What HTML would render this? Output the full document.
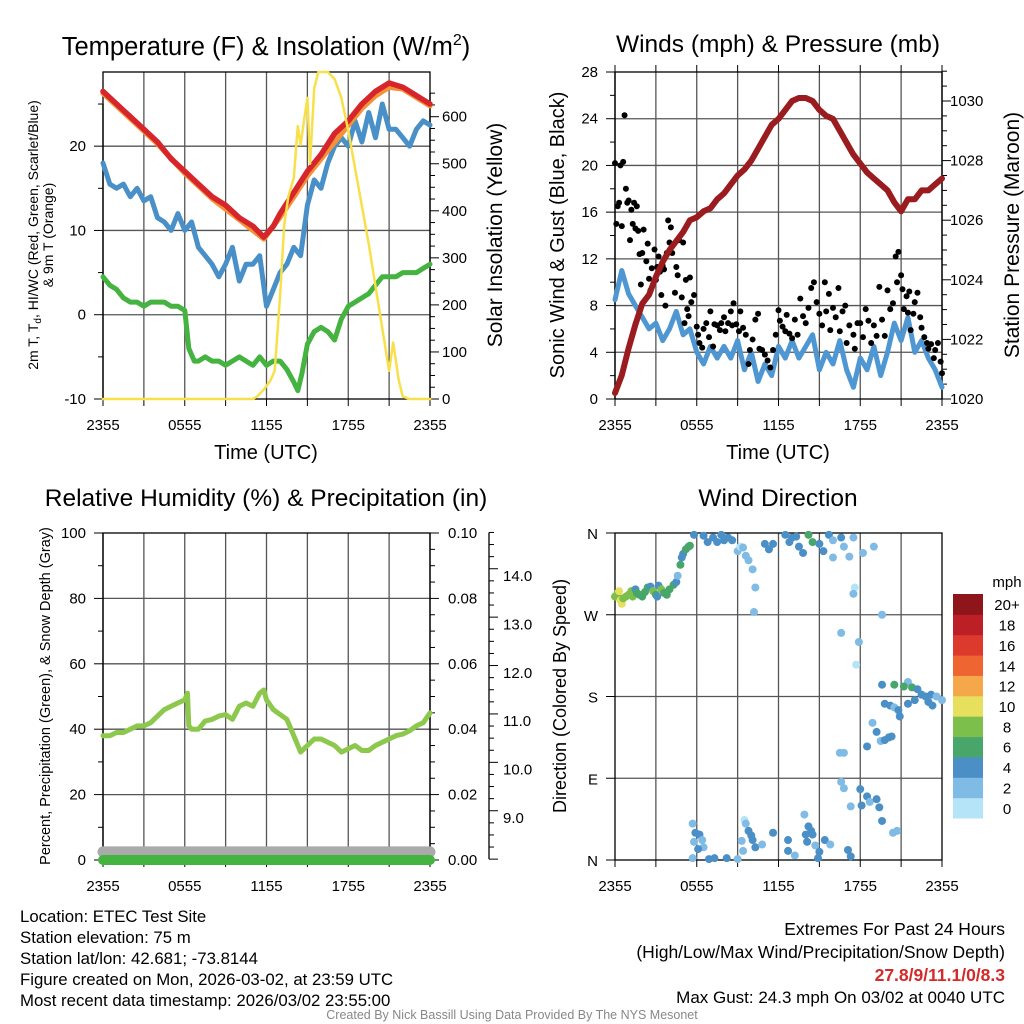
<!DOCTYPE html>
<html><head><meta charset="utf-8"><title>Station Meteogram</title>
<style>
html,body{margin:0;padding:0;background:#fff;}
svg{display:block;font-family:"Liberation Sans",Arial,sans-serif;}
</style></head>
<body>
<svg id="fig" width="1024" height="1024" viewBox="0 0 1024 1024" xmlns="http://www.w3.org/2000/svg">
<g id="layer"></g>
</svg>
<script>
// ---------- DATA ----------
const xTickLabels = ["2355","0555","1155","1755","2355"];
const tempHours = [0,1,2,3,4,5,6,7,8,9,10,11,11.8,12.5,13,14,15,16,17,18,19,20,21,22,23,23.5,24];
const tempVals  = [26.5,25,23.5,22,20.5,18.5,17,15.5,14,13,11.5,10.5,9.2,10.5,12,14.5,17,19,21.5,23,25,26.5,27.5,27,26,25.5,25];
const temp9Hours = [0,2,4,6,8,10,11.8,13,14,15,16,17,18,19,20,21,22,23,24];
const temp9Vals  = [26.3,23.3,20.3,16.8,13.8,11.3,9.0,11.6,14,16.5,18.5,20.5,22.5,24.5,26,27,26.8,25.8,24.8];
const wcHours = [0,0.5,1,1.5,2,2.5,3,3.5,4,4.5,5,5.5,6,6.5,7,7.5,8,8.5,9,9.5,10,10.5,11,11.5,12,12.5,13,13.5,14,14.5,15,15.5,16,16.5,17,17.5,18,18.5,19,19.5,20,20.5,21,21.5,22,22.5,23,23.5,24];
const wcVals  = [18,15.5,15,15.5,14,15,13.5,14,11.5,11,10,12,10,11,8,7,6,4.5,6,8,4,6,6,7,1,3,5,6,8,7,13,16,15,18,20,21,20,23,20.5,24,21,25,22,22,21,20,22,23,22.5];
const dewHours = [0,0.5,1,1.5,2,2.5,3,3.5,4,4.5,5,5.5,6,6.3,6.7,7,7.5,8,8.5,9,9.5,10,10.5,11,11.5,12,12.5,13,13.5,14,14.3,14.6,15,15.5,16,16.5,17,17.5,18,18.5,19,19.5,20,20.5,21,21.5,22,22.5,23,23.5,24];
const dewVals  = [4.5,3.5,3,2,1.5,1.5,1,1.5,1.5,1.5,1,1,0.5,-4,-5.5,-5.5,-5,-5.5,-5.5,-6,-5.5,-5,-5.5,-6,-5,-6,-5.5,-5.5,-6.5,-8,-9,-7,-3.5,-2,-1.5,-2,-3,-0.5,1,1.5,2,2.5,3.5,4.5,4.5,4.5,5,5,5,5.5,6];
const solarHours = [0,11,11.3,11.8,12.3,12.6,13,13.3,13.6,14,14.3,14.5,14.8,15,15.2,15.5,15.8,16.5,17,17.5,18,18.5,19,19.5,20,20.5,21,21.3,21.7,22,22.5,24];
const solarVals  = [0,0,5,20,40,60,220,370,430,470,580,540,600,640,500,660,695,695,680,640,570,490,410,330,240,150,60,120,40,5,0,0];
const windHours = [0,0.5,1,1.5,2,2.5,3,3.5,4,4.5,5,5.5,6,6.5,7,7.5,8,8.5,9,9.5,10,10.5,11,11.5,12,12.5,13,13.5,14,14.5,15,15.5,16,16.5,17,17.5,18,18.5,19,19.5,20,20.5,21,21.5,22,22.5,23,23.5,24];
const windVals  = [8.5,11,9,8,7,6,6.5,5,6,7.5,5.5,6,4,3,4.5,3.5,4.5,3.5,5,2.5,4,1.5,3,2,4.5,3.5,5,3.5,4.5,5.5,2.5,4,3,5,2.5,1,3.5,2.5,4.5,2,4,6.5,5,7,4,5,3.5,2.5,1];
const gustHours = [0,0.1,0.2,0.3,0.4,0.5,0.6,0.7,0.8,0.9,1,1.1,1.2,1.3,1.4,1.5,1.6,1.7,1.8,1.9,2,2.1,2.3,2.4,2.5,2.6,2.7,2.9,3,3.1,3.2,3.3,3.4,3.5,3.6,3.7,3.8,3.9,4,4.1,4.2,4.4,4.5,4.6,4.7,4.9,5,5.1,5.2,5.3,5.4,5.5,5.6,5.8,6,6.1,6.2,6.4,6.5,6.7,6.9,7,7.2,7.3,7.5,7.7,7.8,8,8.1,8.3,8.5,8.6,8.7,8.9,9.1,9.2,9.4,9.6,9.8,9.9,10.1,10.3,10.5,10.6,10.8,11,11.2,11.4,11.6,11.8,12,12.1,12.3,12.5,12.6,12.8,13,13.2,13.4,13.6,13.8,14,14.2,14.4,14.6,14.8,15,15.2,15.4,15.5,15.7,15.8,16,16.2,16.4,16.5,16.7,16.9,17,17.2,17.5,17.6,17.8,18,18.2,18.4,18.6,18.8,19,19.2,19.4,19.6,19.8,20,20.2,20.4,20.6,20.7,20.8,21,21.1,21.2,21.4,21.5,21.6,21.7,21.9,22,22.2,22.4,22.5,22.7,22.9,23,23.2,23.4,23.5,23.7,23.9,24];
const gustVals  = [20.2,15,16.5,16.8,20,14.8,20.3,24.3,18,16.8,17,13.6,16.2,15,16.8,14.6,16.5,14.4,12.4,9.8,12.5,14.5,11.8,13.3,10.3,9.3,11.2,12.8,10.2,11.3,12.2,10.9,8.9,11.4,11.1,8,12.5,15.3,13.4,14.7,12.5,9.1,11.3,10.6,13.6,8.7,13.4,6.5,10.2,7.7,7.1,10.4,8.3,8.9,6.2,5.5,4.8,4.4,6,6.5,5.3,7.5,4.5,6.4,6.3,5.9,6.5,7,5.8,6.5,7.5,6.3,8.2,6.4,5.8,7.5,6.1,5.5,3,4.2,5.1,6.8,7.3,4.3,4.2,3.8,3.3,2.7,4.2,5.5,7.6,6.7,6.2,5.8,7.2,5.6,5.2,6.8,5.5,8.6,7.1,6.5,7.8,9.5,10,8.3,7.3,6.3,10,7.5,9,5.9,7.8,7,9.5,5.8,7.5,8,4.8,6.3,5.5,4.3,6.5,6.5,5.3,7.7,6.7,4.8,6.3,5.4,9.6,6.8,5.4,9.3,7.7,8.2,12.2,10,12.6,10.6,9.4,7.7,8.8,7.4,9.2,5.9,7.3,8.3,9.1,7,6.1,5.3,4.8,4.3,4.7,3.5,4.2,4.8,3.2,2.2];
const presHours = [0,0.5,1,1.5,2,2.5,3,3.5,4,4.5,5,5.5,6,6.5,7,7.5,8,8.5,9,9.5,10,10.5,11,11.5,12,12.5,13,13.5,14,14.5,15,15.5,16,16.5,17,17.5,18,18.5,19,19.5,20,20.5,21,21.5,22,22.5,23,23.5,24];
const presVals  = [1020.2,1020.8,1021.7,1022.5,1023.2,1023.5,1024.1,1024.6,1025,1025.3,1025.6,1026,1026.1,1026.3,1026.4,1026.7,1026.9,1027.2,1027.5,1027.7,1028,1028.4,1028.8,1029.2,1029.4,1029.7,1030,1030.1,1030.1,1030,1029.7,1029.5,1029.4,1029.0,1028.6,1028.2,1027.9,1027.6,1027.4,1027.2,1027,1026.6,1026.3,1026.7,1026.7,1027,1027,1027.2,1027.4];
const rhHours = [0,0.5,1,1.5,2,2.5,3,3.5,4,4.5,5,5.5,6,6.2,6.3,6.5,7,7.5,8,8.5,9,9.5,10,10.5,11,11.5,11.8,12,12.5,13,13.5,14,14.5,15,15.5,16,16.5,17,17.5,18,18.5,19,19.5,20,20.5,21,21.5,22,22.5,23,23.5,24];
const rhVals  = [38,38,39,39,40,41,41,42,44,46,47,48,49,51,41,40,40,42.5,43,44,44.5,43,47,48,47,51,52,49,46,44.5,43,38,33,35,37,37,36,35,33,34,35,33.5,33.5,35,36,37,38,38.5,39.5,41,42,45];
const precipHours = [0,24];
const precipVals  = [0,0];
const snowHours = [0,24];
const snowVals  = [8.3,8.3];
const dirHours = [0,0.2,0.3,0.4,0.5,0.6,0.8,1,1.2,1.3,1.5,1.6,1.8,2,2.2,2.4,2.6,2.8,3,3.1,3.2,3.4,3.6,3.8,4,4.3,4.5,4.6,4.8,4.9,5,5.2,5.4,5.5,5.8,6.5,6.8,7.2,7.5,7.8,8,8.3,8.6,9,9.2,9.4,9.6,9.8,10.1,10.3,10.2,11,11.3,11.6,12.5,12.8,13,13.3,13.5,13.8,14.2,14.5,15,15.3,15.7,16,16,16.6,16.8,17.2,17.5,17.6,17.5,18.2,19,19.6,16.6,17.9,17.7,21.5,19.6,20.5,21.2,21.8,22.2,22.5,22.8,23.2,23.6,24,19.8,20.2,20.5,20.8,21.5,22,23,23.3,20.9,18.9,19.2,19.5,19.8,16.5,16.8,18.5,20.1,20.3,16.6,16.8,18,18.5,18.7,19.2,19.4,17.3,18.1,19.6,20.4,20.7,5.7,5.9,6.2,6.4,5.8,6.5,6.1,5.7,6.9,7.3,8.2,9,9.5,9.6,9.8,10,9.3,10.1,10.3,10.8,9.4,11.6,12.7,12.7,13.2,13.9,14.2,14.4,14,14.5,14.1,14.7,14.9,15,15.4,15.8,17.1,17.3];
const dirVals  = [290,294,296,286,282,288,290,292,296,290,298,294,292,290,295,300,301,296,292,290,302,298,294,292,298,303,306,313,325,333,337,342,345,346,358,357,350,355,350,358,352,355,352,340,345,344,335,330,320,300,273,348,342,348,358,350,355,356,345,338,358,350,348,340,358,352,333,355,345,334,355,300,293,338,345,270,250,240,215,196,193,193,191,190,188,182,180,182,180,176,172,170,168,165,172,176,174,170,158,151,141,131,132,118,118,125,135,136,86,79,78,70,64,67,58,59,60,43,30,32,40,30,28,22,20,14,12,2,1,2,2,1,44,40,32,27,21,22,14,17,10,30,22,10,5,50,37,32,28,28,20,16,2,9,22,17,11,4];
const dirSpeeds = [8,8,10,10,10,8,8,8,8,8,4,6,6,6,6,6,4,8,6,4,4,8,6,6,6,6,4,2,6,4,4,6,6,6,4,4,4,4,4,4,4,4,4,2,1,2,2,2,2,2,2,4,4,4,4,4,4,4,4,4,6,6,4,4,4,2,2,4,2,2,2,1,2,2,2,2,2,2,1,2,4,6,6,6,4,4,4,4,2,2,4,4,2,4,4,4,4,4,4,2,4,2,4,2,2,4,4,4,2,2,4,4,2,4,4,2,4,4,2,2,2,4,4,2,2,2,4,2,4,4,4,2,1,2,4,4,2,4,4,2,2,4,4,4,2,2,4,4,4,4,4,2,4,4,4,2,4,4];
const speedBinLabels = ["0","2","4","6","8","10","12","14","16","18","20+"];
const speedBinColors = ["#b5e3f7","#7fbbe5","#4b8fc7","#49a66b","#7cc04b","#e6e05e","#f5a84a","#ef6531","#dc3a2d","#bd1f27","#8e161a"];
const extremesText = "27.8/9/11.1/0/8.3";

// ---------- DRAWING ----------
const NS = "http://www.w3.org/2000/svg";
const root = document.getElementById("layer");
function mk(tag, attrs, parent){
  const e = document.createElementNS(NS, tag);
  for (const k in attrs) e.setAttribute(k, attrs[k]);
  (parent||root).appendChild(e);
  return e;
}
function txt(str, x, y, size, anchor, parent, extra){
  const t = mk("text", Object.assign({x:x, y:y, "font-size":size, "text-anchor":anchor||"start", fill:"#000"}, extra||{}), parent);
  t.textContent = str;
  return t;
}
function lin(lo, hi, p0, p1){ return v => p0 + (v-lo)/(hi-lo)*(p1-p0); }

function panelFrame(g, X0, X1, Y0, Y1, yMajors, yFn, name){
  for (let h=3; h<24; h+=3){
    const x = lin(0,24,X0,X1)(h);
    const l = mk("line",{x1:x,y1:Y0,x2:x,y2:Y1,stroke:"#555","stroke-width":1.3},g);
    
    
  }
  yMajors.forEach(v=>{
    const y = yFn(v);
    if (y>Y0+1 && y<Y1-1){
      const l = mk("line",{x1:X0,y1:y,x2:X1,y2:y,stroke:"#555","stroke-width":1.3},g);
      
      
    }
  });
  const xs = lin(0,24,X0,X1);
  for (let h=0; h<=24; h+=3){
    mk("line",{x1:xs(h),y1:Y1,x2:xs(h),y2:Y1+7,stroke:"#000","stroke-width":1},g);
  }
  xTickLabels.forEach((s,i)=>{
    const t = txt(s, xs(i*6), Y1+31, 15, "middle", g);
    
    
  });
  const fr = mk("rect",{x:X0,y:Y0,width:X1-X0,height:Y1-Y0,fill:"none",stroke:"#000","stroke-width":1.3},g);
  
  
}
function yAxis(g, X, fn, lo, hi, majorStep, minorStep, side){
  const dir = side==="left" ? -1 : 1;
  mk("line",{x1:X,y1:fn(hi),x2:X,y2:fn(lo),stroke:"#000","stroke-width":1.3},g);
  const n = Math.round((hi-lo)/minorStep);
  for (let i=0;i<=n;i++){
    const v = lo + i*minorStep;
    const isMajor = Math.abs((v-lo)/majorStep - Math.round((v-lo)/majorStep))<1e-6;
    const y = fn(v);
    mk("line",{x1:X,y1:y,x2:X+dir*(isMajor?9:5),y2:y,stroke:"#000","stroke-width":1},g);
  }
}
function yLabels(g, values, fn, x, anchor, fmt, name){
  values.forEach(v=>{
    const t = txt(fmt(v), x, fn(v)+5, 15, anchor, g);
    
    
  });
}
function pathFrom(hs, vs, xf, yf){
  return hs.map((h,i)=>(i?"L":"M")+xf(h).toFixed(1)+","+yf(vs[i]).toFixed(1)).join(" ");
}
function series(g, hs, vs, xf, yf, color, w, name){
  const p = mk("path",{d:pathFrom(hs,vs,xf,yf),fill:"none",stroke:color,"stroke-width":w,"stroke-linejoin":"round","stroke-linecap":"round"},g);
  
  
  return p;
}
function rotLabel(g, lines, cx, cy, size, name){
  const t = mk("text",{transform:`translate(${cx},${cy}) rotate(-90)`,"font-size":size,"text-anchor":"middle",fill:"#000"},g);
  lines.forEach((s,i)=>{
    const ts = mk("tspan",{x:0,dy:i?size*1.0:0},t);
    ts.textContent = s;
  });
  
  
  return t;
}
function title(g, s, cx, y, name, size){
  const t = txt("", cx, y, size||24, "middle", g);
  t.textContent = s;
  
  
  return t;
}
const range = (a,b,s)=>{const r=[];for(let v=a;v<=b+1e-9;v+=s)r.push(+v.toFixed(4));return r;};

// ===== Panel 1: Temperature =====
{
  const g = mk("g",{});
  
  
  const X0=103,X1=430,Y0=72,Y1=399;
  const xf = lin(0,24,X0,X1);
  const yT = lin(-10,28.8,Y1,Y0);
  const yS = lin(0,695,Y1,Y0);
  panelFrame(g,X0,X1,Y0,Y1,[-10,0,10,20],yT,"temperature");
  yAxis(g,X0,yT,-10,25,10,5,"left");
  yAxis(g,X1,yS,0,650,100,25,"right");
  yLabels(g,[-10,0,10,20],yT,86,"end",v=>String(v),"temperature-y-tick-label");
  yLabels(g,[0,100,200,300,400,500,600],yS,442,"start",v=>String(v),"solar-y-tick-label");
  series(g,dewHours,dewVals,xf,yT,"#45b340",5,"dewpoint-line");
  series(g,wcHours,wcVals,xf,yT,"#4a90c8",5,"wind-chill-line");
  series(g,temp9Hours,temp9Vals,xf,yT,"#f4923a",5.5,"temp-9m-line");
  series(g,tempHours,tempVals,xf,yT,"#d7262b",5.5,"temp-2m-line");
  series(g,solarHours,solarVals,xf,yS,"#f8e04a",2.5,"solar-insolation-line");
  const t = title(g,"",266,55,"temperature-title",25.5);
  t.innerHTML = 'Temperature (F) &amp; Insolation (W/m<tspan font-size="16" dy="-10">2</tspan><tspan dy="10">)</tspan>';
  const xl = txt("Time (UTC)",266,459,20,"middle",g);
  
  
  const yl = mk("text",{transform:"translate(38,235) rotate(-90)","font-size":14,"text-anchor":"middle",fill:"#000"},g);
  yl.innerHTML = '<tspan x="0" dy="0">2m T, T<tspan font-size="10" dy="3">d</tspan><tspan dy="-3">, HI/WC (Red, Green, Scarlet/Blue)</tspan></tspan><tspan x="0" dy="15">&amp; 9m T (Orange)</tspan>';
  
  
  rotLabel(g,["Solar Insolation (Yellow)"],502,235,21,"solar-y-axis-title");
}

// ===== Panel 2: Winds =====
{
  const g = mk("g",{});
  
  
  const X0=615,X1=942,Y0=72,Y1=399;
  const xf = lin(0,24,X0,X1);
  const yW = lin(0,28,Y1,Y0);
  const yP = lin(1020,1030,Y1,101);
  panelFrame(g,X0,X1,Y0,Y1,range(0,28,4),yW,"winds");
  for (let h=0; h<=24; h+=3){ mk("line",{x1:xf(h),y1:Y0,x2:xf(h),y2:Y0-7,stroke:"#000","stroke-width":1},g); }
  yAxis(g,X0,yW,0,28,4,2,"left");
  yAxis(g,X1,yP,1020,1031,2,0.5,"right");
  yLabels(g,range(0,28,4),yW,598,"end",v=>String(v),"wind-y-tick-label");
  yLabels(g,[1020,1022,1024,1026,1028,1030],yP,950,"start",v=>String(v),"pressure-y-tick-label");
  series(g,windHours,windVals,xf,yW,"#4f97d2",5,"sonic-wind-line");
  gustHours.forEach((h,i)=>{
    const c = mk("circle",{cx:xf(h),cy:yW(gustVals[i]),r:3,fill:"#000"},g);
    
    
  });
  series(g,presHours,presVals,xf,yP,"#9b1c1f",6,"pressure-line");
  title(g,"Winds (mph) & Pressure (mb)",778,52,"winds-title",24.5);
  const xl = txt("Time (UTC)",778,459,20,"middle",g);
  
  
  rotLabel(g,["Sonic Wind & Gust (Blue, Black)"],564,235,20,"wind-y-axis-title");
  rotLabel(g,["Station Pressure (Maroon)"],1019,235,21,"pressure-y-axis-title");
}

// ===== Panel 3: RH =====
{
  const g = mk("g",{});
  
  
  const X0=103,X1=430,Y0=533,Y1=860;
  const xf = lin(0,24,X0,X1);
  const yR = lin(0,100,Y1,Y0);
  const yPr = lin(0,0.1,Y1,Y0);
  const ySn = lin(9,14,818,576);
  panelFrame(g,X0,X1,Y0,Y1,range(0,100,20),yR,"humidity");
  yAxis(g,X0,yR,0,100,20,10,"left");
  yAxis(g,X1,yPr,0,0.1,0.02,0.005,"right");
  yAxis(g,489,ySn,8.15,14.9,1,0.25,"right");
  yLabels(g,range(0,100,20),yR,86,"end",v=>String(v),"rh-y-tick-label");
  yLabels(g,range(0,0.1,0.02),yPr,448,"start",v=>v.toFixed(2),"precip-y-tick-label");
  yLabels(g,[9,10,11,12,13,14],ySn,503,"start",v=>v.toFixed(1),"snow-y-tick-label");
  series(g,snowHours,snowVals,xf,ySn,"#aaaaaa",11,"snow-depth-line");
  series(g,precipHours,precipVals,xf,yPr,"#45b340",10,"precipitation-line");
  series(g,rhHours,rhVals,xf,yR,"#8cc84b",5,"relative-humidity-line");
  title(g,"Relative Humidity (%) & Precipitation (in)",266,506,"humidity-title",24.5);
  rotLabel(g,["Percent, Precipitation (Green), & Snow Depth (Gray)"],50,696,14.5,"humidity-y-axis-title");
}

// ===== Panel 4: Wind direction =====
{
  const g = mk("g",{});
  
  
  const X0=615,X1=942,Y0=533,Y1=860;
  const xf = lin(0,24,X0,X1);
  const yD = lin(0,360,Y1,Y0);
  panelFrame(g,X0,X1,Y0,Y1,[0,90,180,270,360],yD,"wind-direction");
  [0,90,180,270,360].forEach(v=>mk("line",{x1:X0,y1:yD(v),x2:X0-9,y2:yD(v),stroke:"#000","stroke-width":1},g));
  const dl = ["N","E","S","W","N"];
  [0,90,180,270,360].forEach((v,i)=>{
    const t = txt(dl[i],598,yD(v)+6,15,"end",g);
    
    
  });
  dirHours.forEach((h,i)=>{
    const bin = Math.min(10, Math.floor(dirSpeeds[i]/2));
    const c = mk("circle",{cx:xf(h),cy:yD(dirVals[i]),r:4,fill:speedBinColors[bin]},g);
    
    
  });
  title(g,"Wind Direction",778,506,"wind-direction-title",24.5);
  rotLabel(g,["Direction (Colored By Speed)"],566,696,18,"direction-y-axis-title");
  const cb = mk("g",{},g);
  
  
  const cbTop=594, cbH=224/11;
  speedBinColors.forEach((col,i)=>{
    const y = cbTop + (10-i)*cbH;
    const r = mk("rect",{x:953,y:y,width:30,height:cbH+0.5,fill:col},cb);
    
    
    const t = txt(speedBinLabels[i],1007,y+cbH/2+6,15,"middle",cb);
    
    
  });
  const u = txt("mph",1007,587,15,"middle",cb);
  
  
}

// ===== Footer text =====
{
  const g = mk("g",{});
  
  
  const left = ["Location: ETEC Test Site","Station elevation: 75 m","Station lat/lon: 42.681; -73.8144","Figure created on Mon, 2026-03-02, at 23:59 UTC","Most recent data timestamp: 2026/03/02 23:55:00"];
  left.forEach((s,i)=>{
    const t = txt(s,20,922+i*21,16.8,"start",g);
    
    
  });
  const r1 = txt("Extremes For Past 24 Hours",1005,935,17.5,"end",g);
  
  
  const r2 = txt("(High/Low/Max Wind/Precipitation/Snow Depth)",1005,958,17.5,"end",g);
  
  
  const r3 = txt(extremesText,1005,981,17.5,"end",g,{fill:"#d42a2a","font-weight":"bold"});
  
  
  const r4 = txt("Max Gust: 24.3 mph On 03/02 at 0040 UTC",1005,1003,17,"end",g);
  
  
  const c = txt("Created By Nick Bassill Using Data Provided By The NYS Mesonet",512,1019,12.5,"middle",g,{fill:"#888"});
  
  
}
</script>
</body></html>
